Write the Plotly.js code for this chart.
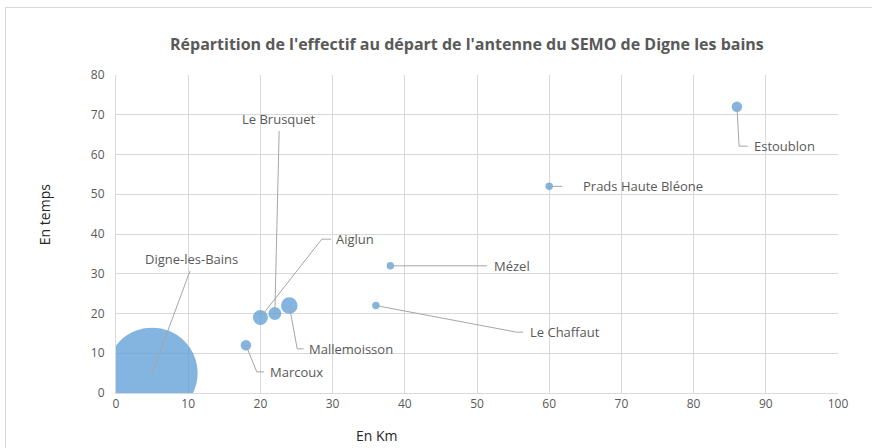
<!DOCTYPE html>
<html>
<head>
<meta charset="utf-8">
<script src="https://cdn.plot.ly/plotly-3.0.1.min.js"></script>
<style>
  html, body { margin: 0; padding: 0; background: #fff; }
  #wrap { position: relative; width: 872px; height: 448px; overflow: hidden; }
  #chart { position: absolute; left: 0; top: 0; width: 872px; height: 448px; }
  #frame { position: absolute; left: 5px; top: 7px; width: 900px; height: 500px;
           border: 1px solid #d9d9d9; pointer-events: none; }
</style>
</head>
<body>
<div id="wrap"><div id="chart"></div><div id="frame"></div></div>
<script>
// ---- data ----
const names    = ["Digne-les-Bains", "Marcoux", "Aiglun", "Le Brusquet", "Mallemoisson",
                  "Le Chaffaut", "Mézel", "Prads Haute Bléone", "Estoublon"];
const km       = [5, 18, 20, 22, 24, 36, 38, 60, 86];
const temps    = [5, 12, 19, 20, 22, 22, 32, 52, 72];
const effectif = [150, 2, 4, 3, 5, 1, 1, 1, 2];

const xTicks = [0, 10, 20, 30, 40, 50, 60, 70, 80, 90, 100];
const yTicks = [0, 10, 20, 30, 40, 50, 60, 70, 80];

// ---- label placement (data-label positions, not data) ----
const labelX      = [10.4, 21.0, 30.2, 22.6, 26.5, 57.0, 52.1, 64.4, 88.1];
const labelY      = [33.7, 5.3, 38.7, 68.9, 11.1, 15.3, 32.0, 52.0, 62.1];
const labelAnchor = ["center", "left", "left", "center", "left", "left", "left", "left", "left"];
const elbowX      = [10.25, 19.5, 28.5, 22.6, 25.1, 55.5, 51.4, 61.8, 86.3];
const elbowY      = [30.7, 5.3, 38.7, 65.9, 11.1, 15.3, 32.0, 52.0, 62.1];
const endX        = [10.25, 20.5, 29.8, 22.6, 26.0, 56.4, 51.4, 61.8, 87.5];
const endY        = [30.7, 5.3, 38.7, 65.9, 11.1, 15.3, 32.0, 52.0, 62.1];

// ---- build traces ----
const maxDiameter = 91;
const bubbles = {
  type: "scatter", mode: "markers",
  x: km, y: temps, text: names,
  marker: {
    size: effectif, sizemode: "area",
    sizeref: 2 * Math.max(...effectif) / (maxDiameter * maxDiameter),
    sizemin: 2,
    color: "#5B9BD5", opacity: 0.75,
    line: { width: 0 }
  },
  cliponaxis: true,
  hoverinfo: "skip", showlegend: false
};

const lx = [], ly = [];
for (let i = 0; i < names.length; i++) {
  lx.push(km[i], elbowX[i], endX[i], null);
  ly.push(temps[i], elbowY[i], endY[i], null);
}
const leaders = {
  type: "scatter", mode: "lines", x: lx, y: ly,
  line: { color: "#a6a6a6", width: 1 },
  hoverinfo: "skip", showlegend: false, cliponaxis: false
};

const FONT = "'Open Sans', sans-serif";
const annotations = names.map((n, i) => ({
  text: n, x: labelX[i], y: labelY[i], xref: "x", yref: "y",
  xanchor: labelAnchor[i], yanchor: "middle", showarrow: false,
  font: { family: FONT, size: 13, color: "#595959" }
}));
annotations.push({
  text: "En temps", xref: "paper", yref: "paper", x: -0.098, y: 0.56,
  textangle: -90, showarrow: false, xanchor: "center", yanchor: "middle",
  font: { family: FONT, size: 14, color: "#262626" }
});
annotations.push({
  text: "En Km", xref: "paper", yref: "paper", x: 0.361, y: -0.135,
  showarrow: false, xanchor: "center", yanchor: "middle",
  font: { family: FONT, size: 14, color: "#262626" }
});

const layout = {
  width: 872, height: 448,
  margin: { l: 116, r: 34, t: 75, b: 55, pad: 0 },
  paper_bgcolor: "rgba(0,0,0,0)", plot_bgcolor: "#fff",
  title: {
    text: "<b>Répartition de l'effectif au départ de l'antenne du SEMO de Digne les bains</b>",
    font: { family: FONT, size: 16, color: "#595959" },
    x: 0.486, xanchor: "center", y: 0.9, yanchor: "middle", xref: "paper", yref: "container"
  },
  xaxis: {
    range: [0, 100], tickvals: xTicks, ticktext: xTicks.map(String),
    showgrid: true, gridcolor: "#d9d9d9", gridwidth: 1,
    zeroline: false, showline: true, linecolor: "#d9d9d9", mirror: false,
    ticks: "", ticklen: 0,
    tickfont: { family: FONT, size: 12, color: "#595959" }, fixedrange: true
  },
  yaxis: {
    range: [0, 80], tickvals: yTicks, ticktext: yTicks.map(String),
    showgrid: true, gridcolor: "#d9d9d9", gridwidth: 1,
    zeroline: false, showline: true, linecolor: "#d9d9d9",
    ticks: "", ticklen: 0, ticklabelstandoff: 8,
    tickfont: { family: FONT, size: 12, color: "#595959" }, fixedrange: true
  },
  annotations: annotations,
  hovermode: false, showlegend: false
};

Plotly.newPlot("chart", [bubbles, leaders], layout, { displayModeBar: false, staticPlot: true });
</script>
</body>
</html>
